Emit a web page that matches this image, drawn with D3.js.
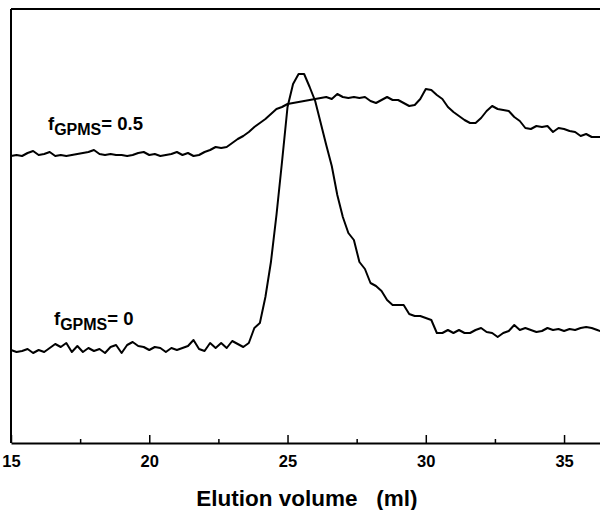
<!DOCTYPE html>
<html>
<head>
<meta charset="utf-8">
<script src="https://cdn.jsdelivr.net/npm/d3@7"></script>
<style>
  body { margin: 0; background: #fff; }
  svg { display: block; font-family: "Liberation Sans", Arial, sans-serif; }
</style>
</head>
<body>
<svg id="canvas" width="600" height="510"></svg>
<script>
// sampling of both chromatograms: every 0.2 ml starting at 15 ml
let startVolume = 15
let stepVolume = 0.2

// detector response (arbitrary units), fGPMS = 0.5
let signalHalf = [
  143.5, 144, 143.5, 145, 146, 144, 144.5, 145.5, 143.5, 144,
  143.5, 144, 144.5, 145, 145.5, 146.5, 144.5, 144, 144.5, 144,
  144, 143.5, 144, 145, 145.5, 144, 144.5, 143.5, 144, 144.5,
  145.5, 144, 145, 143.5, 144, 145.5, 146.5, 148, 147.5, 148,
  150, 152, 153.5, 155.5, 158, 160, 162, 164.5, 167, 168,
  169.5, 170, 170.5, 171, 171.5, 172, 172.5, 173, 172, 174.5,
  173, 172.5, 173, 172.5, 173, 171, 170, 171.5, 173, 171.5,
  171.5, 170, 168.5, 169, 172, 177, 176.5, 174, 172, 168,
  165.5, 163.5, 161.5, 160, 160, 162.5, 166, 168.5, 167, 166.5,
  166, 163, 161, 157.5, 157, 158.5, 158, 158.5, 155.5, 157.5,
  157, 156, 155.5, 153.5, 154.5, 153, 153, 153
]

// detector response (arbitrary units), fGPMS = 0
let signalZero = [
  46.5, 45.5, 46, 47, 45, 46.5, 45.5, 47.5, 49.5, 48,
  50, 45.5, 48.5, 45.5, 47.5, 46, 47, 45, 48, 49,
  45, 49, 50.5, 48.5, 48, 46.5, 48, 47.5, 45.5, 47.5,
  46.5, 47.5, 48.5, 51.5, 47, 46, 50, 47.5, 50, 47.5,
  51, 49.5, 48, 50, 57.5, 60, 73, 90.5, 114, 140.5,
  168, 179.5, 184.5, 184.5, 178, 171, 160, 149, 138.5, 124,
  113, 105, 101.5, 90.5, 87, 80, 78.5, 76, 71.5, 69,
  69, 69, 64.5, 63.5, 63.5, 62.5, 61.5, 55, 55, 56.5,
  55, 56.5, 55, 55, 56.5, 57.5, 55.5, 55, 53, 55,
  56, 59, 56.5, 57.5, 56.5, 55.5, 56, 57.5, 56.5, 57,
  56, 57, 56.5, 57.5, 58, 57.5, 56.5, 55.5
]

let majorTicks = [15, 20, 25, 30, 35]
let minorTicks = [17.5, 22.5, 27.5, 32.5]

let canvas = d3.select('#canvas')

let xScale = d3.scaleLinear().domain([15, 36.3]).range([11, 600])
let yScale = d3.scaleLinear().domain([0, 217]).range([443, 9])

let toPoints = (values) => values.map((v, i) => [startVolume + stepVolume * i, v])

let line = d3.line()
  .x((d) => xScale(d[0]))
  .y((d) => yScale(d[1]))

canvas.append('rect').attr('width', 600).attr('height', 510).attr('fill', '#fff')

// frame: left and top
canvas.append('line')
  .attr('x1', xScale(15)).attr('x2', xScale(15))
  .attr('y1', yScale(0)).attr('y2', yScale(217))
  .attr('stroke', '#000').attr('stroke-width', 2)
canvas.append('line')
  .attr('x1', xScale(15)).attr('x2', xScale(36.3))
  .attr('y1', yScale(217)).attr('y2', yScale(217))
  .attr('stroke', '#000').attr('stroke-width', 2)

let xAxis = canvas.append('g')
  .attr('transform', 'translate(0,' + yScale(0) + ')')
  .call(d3.axisBottom(xScale)
    .tickValues(majorTicks)
    .tickSizeInner(-8)
    .tickSizeOuter(0)
    .tickPadding(12))
xAxis.select('.domain').attr('stroke-width', 2)
xAxis.selectAll('.tick line').attr('stroke-width', 1.5)
xAxis.selectAll('.tick text')
  .attr('font-size', 16.5).attr('font-weight', 'bold').attr('fill', '#000')
  .attr('font-family', '"Liberation Sans", Arial, sans-serif')

let minorAxis = canvas.append('g')
  .attr('transform', 'translate(0,' + yScale(0) + ')')
  .call(d3.axisBottom(xScale)
    .tickValues(minorTicks)
    .tickSizeInner(-4)
    .tickSizeOuter(0)
    .tickFormat(''))
minorAxis.select('.domain').remove()
minorAxis.selectAll('.tick line').attr('stroke-width', 1.5)

canvas.append('text')
  .attr('x', 307).attr('y', 506)
  .attr('text-anchor', 'middle')
  .attr('font-size', 22.5).attr('font-weight', 'bold')
  .attr('xml:space', 'preserve')
  .text('Elution volume   (ml)')

// chromatograms
canvas.append('path')
  .datum(toPoints(signalHalf))
  .attr('d', line)
  .attr('fill', 'none').attr('stroke', '#000').attr('stroke-width', 2)
  .attr('stroke-linejoin', 'round')

canvas.append('path')
  .datum(toPoints(signalZero))
  .attr('d', line)
  .attr('fill', 'none').attr('stroke', '#000').attr('stroke-width', 2)
  .attr('stroke-linejoin', 'round')

// curve labels
let addLabel = (x, y, rest) => {
  let t = canvas.append('text')
    .attr('x', x).attr('y', y)
    .attr('font-size', 18.5).attr('font-weight', 'bold')
  t.append('tspan').text('f')
  t.append('tspan').attr('font-size', 16).attr('dy', 5).text('GPMS')
  t.append('tspan').attr('dy', -5).text(rest)
}
addLabel(48, 130, '= 0.5')
addLabel(54, 325, '= 0')
</script>
</body>
</html>
